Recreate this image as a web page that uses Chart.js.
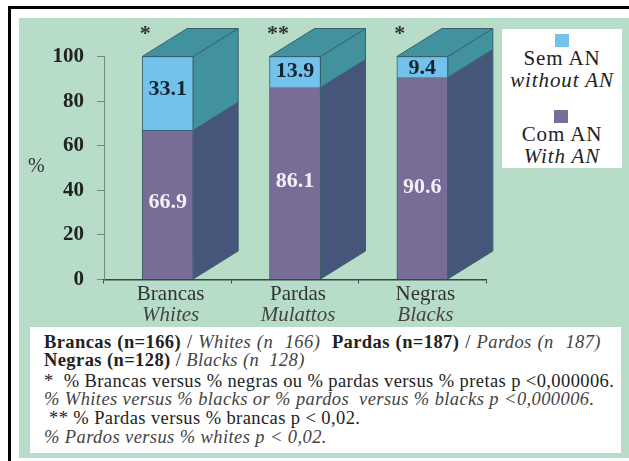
<!DOCTYPE html>
<html>
<head>
<meta charset="utf-8">
<script src="https://cdn.jsdelivr.net/npm/chart.js@4"></script>
<style>
body { margin: 0; background: #fff; width: 629px; height: 461px; overflow: hidden; position: relative; font-family: "Liberation Serif", serif; color: #222; }
#edgeTop { position: absolute; left: 8px; top: 6px; right: 0; height: 2.5px; background: #000; }
#edgeLeft { position: absolute; left: 8px; top: 6px; bottom: 0; width: 2.5px; background: #000; }
#panel { position: absolute; left: 19px; top: 18px; right: 0; height: 440px; background: #b7ddc8; }
canvas { position: absolute; left: 0; top: 0; }
#percent { position: absolute; left: 28px; top: 154px; font-size: 20px; color: #333; }
#legend { position: absolute; left: 502px; top: 29px; width: 120px; height: 139px; background: #fff; }
#legend i, #legend span { position: absolute; left: 0; width: 120px; text-align: center; white-space: nowrap; font-size: 21px; line-height: 22px; letter-spacing: 0.9px; }
#legend b { position: absolute; width: 14px; height: 13px; }
#notes { position: absolute; left: 30px; top: 327px; width: 591px; height: 126px; background: #fff; }
#notes div { position: absolute; left: 14px; white-space: pre; font-size: 18.5px; line-height: 19px; letter-spacing: 0.4px; }
#notes div:first-child { word-spacing: 0.8px; }
#notes em { color: #444; }
</style>
</head>
<body>
<div id="edgeTop"></div>
<div id="edgeLeft"></div>
<div id="panel"></div>
<canvas id="chart" width="629" height="461"></canvas>
<div id="percent">%</div>
<div id="legend"></div>
<div id="notes"></div>
<script>
const categories = ['Brancas', 'Pardas', 'Negras'];
const categoriesEn = ['Whites', 'Mulattos', 'Blacks'];
const comAN = [66.9, 86.1, 90.6];
const semAN = [33.1, 13.9, 9.4];
const sigMarks = ['*', '**', '*'];
const yTicks = [0, 20, 40, 60, 80, 100];

const legendPt = ['Sem AN', 'Com AN'];
const legendEn = ['without AN', 'With AN'];

const colors = {
    semFront: '#72c2ec',
    semSide: '#41919e',
    comFront: '#776d96',
    comSide: '#46567a',
    edge: '#3c5f6b'
};

// Notes under the chart
const notes = [
    '<b>Brancas (n=166)</b> / <em>Whites (n  166)</em>  <b>Pardas (n=187)</b> / <em>Pardos (n  187)</em>',
    '<b>Negras (n=128)</b> / <em>Blacks (n  128)</em>',
    '*  % Brancas versus % negras ou % pardas versus % pretas p &lt;0,000006.',
    '<em>% Whites versus % blacks or % pardos  versus % blacks p &lt;0,000006.</em>',
    ' ** % Pardas versus % brancas p &lt; 0,02.',
    '<em>% Pardos versus % whites p &lt; 0,02.</em>'
];
const noteTops = [6, 24, 45, 63, 82, 101];
const notesEl = document.getElementById('notes');
notes.forEach((html, i) => {
    const line = document.createElement('div');
    line.style.top = noteTops[i] + 'px';
    line.innerHTML = html;
    notesEl.appendChild(line);
});

// Legend box
const legendEl = document.getElementById('legend');
const legendSwatches = [colors.semFront, colors.comFront];
legendPt.forEach((text, i) => {
    const top = i === 0 ? 5 : 81;
    legendEl.insertAdjacentHTML('beforeend',
        `<b style="left:${i === 0 ? 53 : 52}px;top:${top}px;background:${legendSwatches[i]}"></b>` +
        `<span style="top:${top + 13}px">${text}</span>` +
        `<i style="top:${top + 35}px">${legendEn[i]}</i>`);
});

// Draws the side and top faces of each bar, and the value labels
const DEPTH_X = 45;
const DEPTH_Y = 28;

function face(ctx, pts, fill) {
    ctx.beginPath();
    pts.forEach((p, i) => i ? ctx.lineTo(p[0], p[1]) : ctx.moveTo(p[0], p[1]));
    ctx.closePath();
    ctx.fillStyle = fill;
    ctx.fill();
    ctx.strokeStyle = colors.edge;
    ctx.lineWidth = 1;
    ctx.stroke();
}

const box3d = {
    id: 'box3d',
    beforeDatasetsDraw(chart) {
        const ctx = chart.ctx;
        const lower = chart.getDatasetMeta(0).data;
        const upper = chart.getDatasetMeta(1).data;
        ctx.save();
        lower.forEach((bar, i) => {
            const top = upper[i];
            const r = bar.x + bar.width / 2;
            const l = bar.x - bar.width / 2;
            face(ctx, [[r, bar.base], [r + DEPTH_X, bar.base - DEPTH_Y], [r + DEPTH_X, bar.y - DEPTH_Y], [r, bar.y]], colors.comSide);
            face(ctx, [[r, bar.y], [r + DEPTH_X, bar.y - DEPTH_Y], [r + DEPTH_X, top.y - DEPTH_Y], [r, top.y]], colors.semSide);
            face(ctx, [[l, top.y], [l + DEPTH_X, top.y - DEPTH_Y], [r + DEPTH_X, top.y - DEPTH_Y], [r, top.y]], colors.semSide);
        });
        ctx.restore();
    },
    afterDatasetsDraw(chart) {
        const ctx = chart.ctx;
        const lower = chart.getDatasetMeta(0).data;
        const upper = chart.getDatasetMeta(1).data;
        const comShift = [-2, -2, 9];
        const semShift = [-4, -1, 1];
        ctx.save();
        ctx.textAlign = 'center';
        ctx.textBaseline = 'middle';
        ctx.font = 'bold 22px "Liberation Serif"';
        lower.forEach((bar, i) => {
            const top = upper[i];
            ctx.fillStyle = '#f2f0f6';
            ctx.fillText(comAN[i].toFixed(1), bar.x, (bar.y + bar.base) / 2 + comShift[i]);
            ctx.fillStyle = '#152530';
            ctx.fillText(semAN[i].toFixed(1), top.x, (top.y + top.base) / 2 + semShift[i]);
            ctx.fillStyle = '#333';
            ctx.textAlign = 'left';
            ctx.fillText(sigMarks[i], top.x - top.width / 2 - 2.5, top.y - 22);
            ctx.textAlign = 'center';
        });
        ctx.restore();
    }
};

new Chart(document.getElementById('chart').getContext('2d'), {
    type: 'bar',
    data: {
        labels: categories,
        datasets: [
            { label: 'Com AN', data: comAN, backgroundColor: colors.comFront, borderColor: colors.edge, borderWidth: 1, barThickness: 51 },
            { label: 'Sem AN', data: semAN, backgroundColor: colors.semFront, borderColor: colors.edge, borderWidth: 1, barThickness: 51 }
        ]
    },
    options: {
        responsive: false,
        animation: false,
        layout: { padding: { top: 56.5, right: 143, bottom: 135.5, left: 0 } },
        plugins: { legend: { display: false }, tooltip: { enabled: false } },
        scales: {
            x: {
                stacked: true,
                border: { color: '#34484a', width: 1.5 },
                grid: { drawOnChartArea: false, tickLength: 4, color: '#34484a' },
                ticks: { padding: 0, labelOffset: 3, color: '#333', maxRotation: 0, font: { family: 'Liberation Serif', size: 21, lineHeight: 1 } }
            },
            xEn: {
                type: 'category',
                position: 'bottom',
                labels: categoriesEn,
                offset: true,
                border: { display: false },
                grid: { display: false, drawTicks: false },
                ticks: { padding: 0, labelOffset: 3, color: '#444', maxRotation: 0, font: { family: 'Liberation Serif', size: 21, style: 'italic', lineHeight: 1 } }
            },
            y: {
                stacked: true,
                min: 0,
                max: 100,
                afterFit(scale) { scale.width = 104; },
                afterBuildTicks(scale) { scale.ticks = yTicks.map(v => ({ value: v })); },
                border: { color: '#6f8a7d' },
                grid: { drawOnChartArea: false, tickLength: 7, color: '#6f8a7d' },
                ticks: { padding: 13, color: '#222', font: { family: 'Liberation Serif', size: 21, weight: 'bold' } }
            }
        }
    },
    plugins: [box3d]
});
</script>
</body>
</html>
